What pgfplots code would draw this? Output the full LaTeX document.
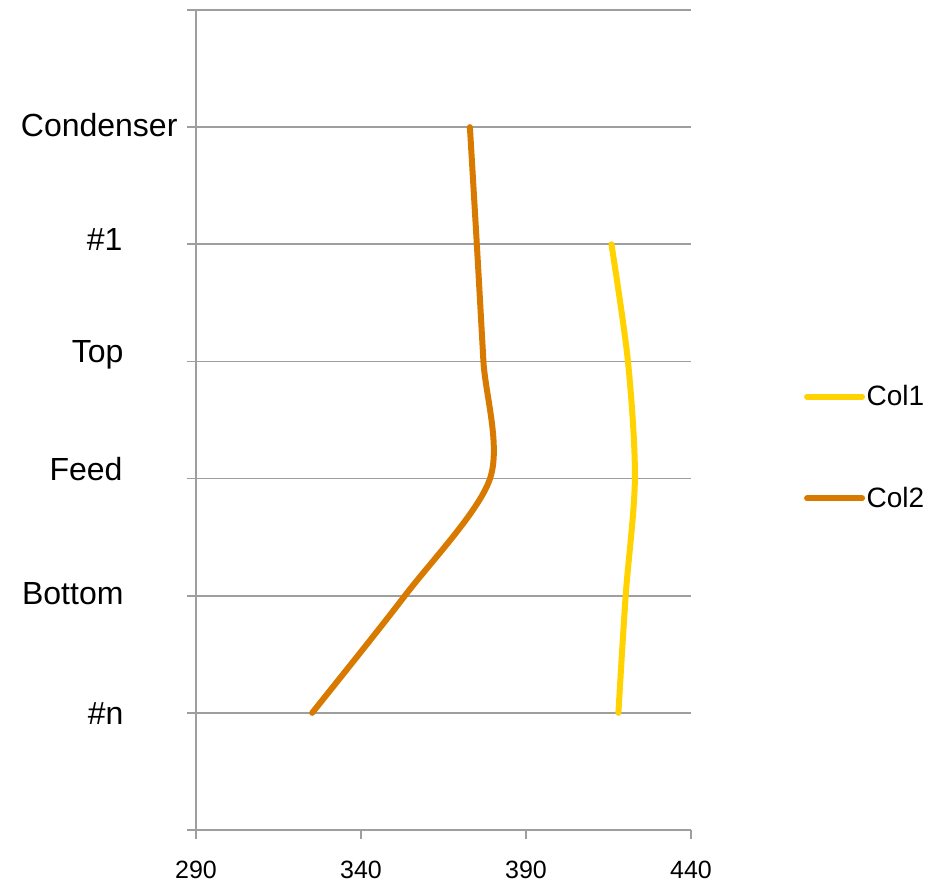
\documentclass[border=0pt]{standalone}
\usepackage{pgfplots}
\pgfplotsset{compat=1.18}
\usepackage{fontspec}
\setmainfont{Liberation Sans}
\definecolor{colA}{RGB}{255,210,0}
\definecolor{colB}{RGB}{217,122,0}
\definecolor{gridc}{RGB}{158,158,158}
\begin{document}
\begin{tikzpicture}
\useasboundingbox (0,0) rectangle (936bp,884bp);
\begin{axis}[
  at={(196bp,54bp)}, anchor=south west,
  scale only axis, width=495bp, height=820bp,
  xmin=290, xmax=440, ymin=0, ymax=7,
  axis x line=bottom, axis y line=left,
  axis line style={gridc, line width=1.8bp, -},
  xtick={290,340,390,440},
  ytick={0,1,2,3,4,5,6,7},
  yticklabels={{},
    {\#n\hspace*{54bp}},
    {\raisebox{3bp}{Bottom}\hspace*{54bp}},
    {\raisebox{10bp}{Feed}\hspace*{55bp}},
    {\raisebox{10bp}{Top}\hspace*{54bp}},
    {\raisebox{5.5bp}{\#1}\hspace*{55bp}},
    {\raisebox{2bp}{Condenser}},{}},
  tick align=outside, major tick length=9bp,
  tick style={gridc, line width=1.8bp},
  ymajorgrids, major grid style={gridc, line width=1.8bp},
  /pgf/number format/assume math mode=true,
  xticklabel style={font=\fontsize{25bp}{29bp}\selectfont, inner sep=1bp, yshift=-20.5bp},
  yticklabel style={font=\fontsize{32bp}{36bp}\selectfont, text height=23bp, text depth=0bp, xshift=-6bp},
  clip=false,
  legend style={at={(1.228,0.4665)}, anchor=west, draw=none, fill=none,
    font=\fontsize{28bp}{32bp}\selectfont, row sep=77bp, inner sep=0pt,
    nodes={inner sep=1.5bp}},
  legend cell align=left,
  legend image code/.code={\draw[#1, line cap=round] (0bp,0bp) -- (55bp,0bp);},
]
\addplot[colA, line width=6bp, smooth, tension=0.5, line cap=round] coordinates {
 (415.9,5) (420.9,4) (423.0,3) (420.2,2) (418.0,1)};
\addlegendentry{Col1}
\addplot[colB, line width=6bp, smooth, tension=0.5, line cap=round] coordinates {
 (373.0,6) (375.1,5) (377.1,4) (379.1,3) (353.3,2) (325.2,1)};
\addlegendentry{Col2}
\end{axis}
\end{tikzpicture}
\end{document}
